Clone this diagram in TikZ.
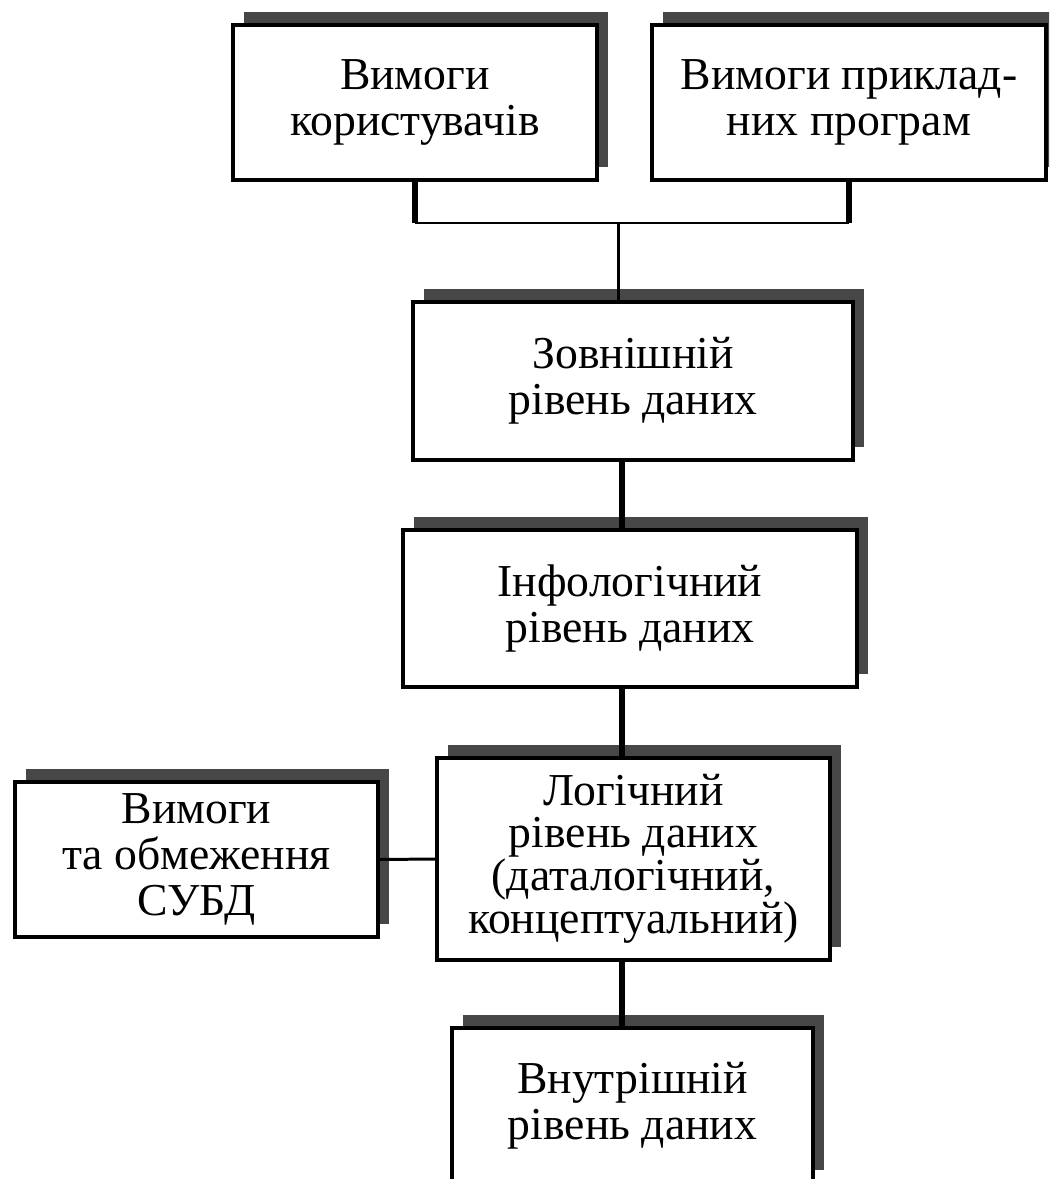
\documentclass[tikz,border=0pt]{standalone}
\usepackage{fontspec}
\setmainfont{Liberation Serif}
\usetikzlibrary{shadows}

\begin{document}
\begin{tikzpicture}[x=0.02cm,y=-0.02cm,
  lvlbox/.style={draw=black, line width=2pt, fill=white, align=center, inner sep=0pt,
    font=\fontsize{26}{26}\selectfont,
    general shadow={fill=black!72, draw=none, shadow xshift=0.22cm, shadow yshift=0.26cm}},
  thickline/.style={line width=3.7pt},
  thinline/.style={line width=1.7pt}]
  \def\px{0.02cm}
  \clip (0,0) rectangle (1049,1179);

  % --- REQUIREMENTS ---
  \node[lvlbox, minimum width=364*\px, minimum height=155*\px] (users) at (415,102.5) {Вимоги\\користувачів};
  \node[lvlbox, minimum width=394*\px, minimum height=155*\px] (apps)  at (849,102.5) {Вимоги приклад-\\них програм};

  % --- DATA LEVELS ---
  \node[lvlbox, minimum width=440*\px, minimum height=158*\px] (extl) at (633,381)   {Зовнішній\\рівень даних};
  \node[lvlbox, minimum width=454*\px, minimum height=157*\px] (infl) at (630,608.5) {Інфологічний\\рівень даних};
  \node[lvlbox, minimum width=393*\px, minimum height=202*\px,
        font=\fontsize{26}{23.5}\selectfont] (logl) at (633.5,859) {Логічний\\рівень даних\\(даталогічний,\\концептуальний)};
  \node[lvlbox, minimum width=363*\px, minimum height=155*\px] (dbms) at (196.5,859.5) {Вимоги\\та обмеження\\СУБД};
  \node[lvlbox, minimum width=361*\px, minimum height=155*\px] (intl) at (632.5,1105.5) {Внутрішній\\рівень даних};

  % Junction and spine
  \coordinate (jn) at (618,223);
  \coordinate (spine) at (622,0);

  \draw[thickline] (users.south) -- (users.south |- jn);
  \draw[thickline] (apps.south) -- (apps.south |- jn);
  \draw[thinline] (users.south |- jn) -- (apps.south |- jn);
  \draw[thinline] (jn) -- (jn |- extl.north);

  % Vertical links between levels
  \draw[thickline] (extl.south -| spine) -- (infl.north -| spine);
  \draw[thickline] (infl.south -| spine) -- (logl.north -| spine);
  \draw[thickline] (logl.south -| spine) -- (intl.north -| spine);

  \draw[thinline] (dbms.east) -- (logl.west);
\end{tikzpicture}
\end{document}
